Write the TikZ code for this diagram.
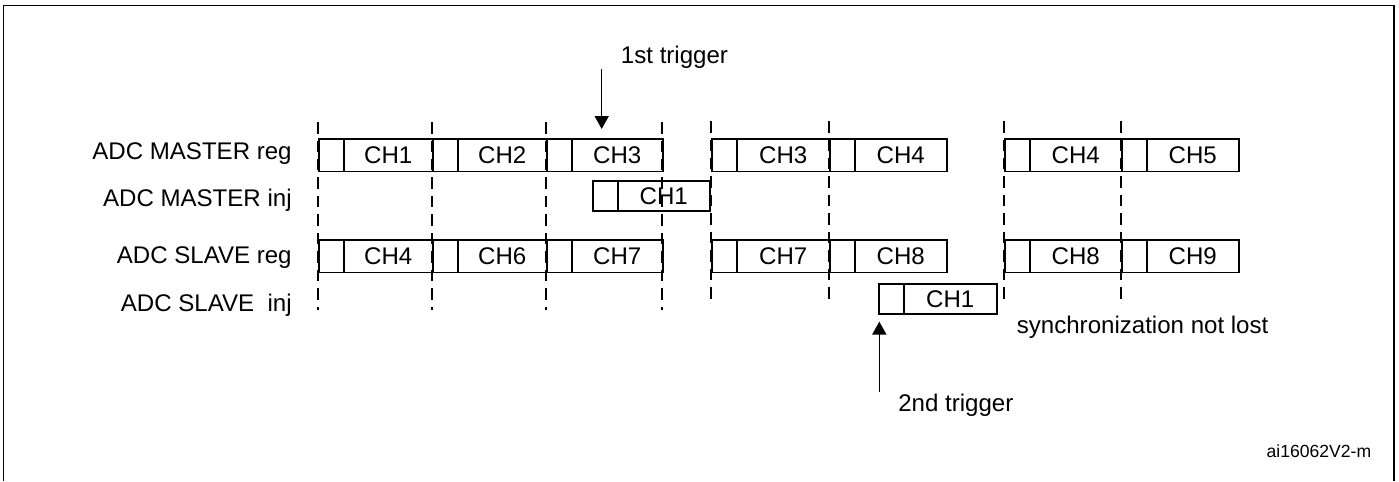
\documentclass[tikz,border=0pt]{standalone}
\usepackage{fontspec}
\setmainfont{Liberation Sans}
\usetikzlibrary{arrows.meta, positioning, calc}

\begin{document}
\begin{tikzpicture}[
  x=0.02cm, y=-0.02cm,
  every node/.style={font=\fontsize{13.7}{16}\selectfont, inner sep=0pt},
  pre/.style={rectangle, draw, line width=0.9pt, minimum width=0.5cm, anchor=north west},
  chan/.style={rectangle, draw, line width=0.9pt, anchor=north west},
  regrow/.style={minimum height=0.65cm},
  injrow/.style={minimum height=0.6cm},
  rowlbl/.style={anchor=base east},
  guide/.style={line width=1.1pt, dash pattern=on 0.23cm off 0.14cm},
  trig/.style={line width=0.9pt, -{Triangle[width=0.28cm, length=0.26cm]}},
  frame/.style={line width=1.1pt}
]

\useasboundingbox (0,0) rectangle (1399,481);

%% cadre (le bas sort de l'image)
\draw[frame] (3.5,481) -- (3.5,5.5) -- (1394,5.5) -- (1394,481);

%% noms des lignes
\node[rowlbl] (lmr) at (292,159) {ADC MASTER reg};
\node[rowlbl] (lmi) at (292,206) {ADC MASTER inj};
\node[rowlbl] (lsr) at (292,263) {ADC SLAVE reg};
\node[rowlbl] (lsi) at (292,311) {ADC SLAVE\ \ inj};

%% ADC maitre, conversions regulieres
\foreach \nm/\xa/\xb/\lab in {mr1/318/432/CH1, mr2/432/546/CH2, mr3/546/662/CH3,
                              mr4/711/829/CH3, mr5/829/946/CH4,
                              mr6/1004/1121/CH4, mr7/1121/1238/CH5}{
  \node[pre, regrow] (\nm-p) at (\xa,138) {};
  \node[chan, regrow, minimum width={(\xb-\xa-25)*0.02cm}] (\nm) at (\xa+25,138) {\lab};
}

%% ADC maitre, injecte
\node[pre, injrow] (mi1-p) at (592,180) {};
\node[chan, injrow, minimum width={(709-592-25)*0.02cm}] (mi1) at (617,180) {CH1};

%% ADC esclave, conversions regulieres
\foreach \nm/\xa/\xb/\lab in {sr1/318/432/CH4, sr2/432/546/CH6, sr3/546/662/CH7,
                              sr4/711/829/CH7, sr5/829/946/CH8,
                              sr6/1004/1121/CH8, sr7/1121/1238/CH9}{
  \node[pre, regrow] (\nm-p) at (\xa,239) {};
  \node[chan, regrow, minimum width={(\xb-\xa-25)*0.02cm}] (\nm) at (\xa+25,239) {\lab};
}

%% ADC esclave, injecte
\node[pre, injrow] (si1-p) at (878,283) {};
\node[chan, injrow, minimum width={(996-878-25)*0.02cm}] (si1) at (903,283) {CH1};

%% reperes en pointilles
\foreach \x in {318,432,546,662}
  \draw[guide] (\x,122) -- (\x,310);
\foreach \x in {711,829,1004,1121}
  \draw[guide] (\x,121) -- (\x,300);

%% declenchements
\coordinate (t1) at (601.7,69);
\draw[trig, shorten >=0.18cm] (t1) -- (t1 |- mr3.north);
\node[anchor=base] (t1lbl) at (674.5,63) {1st trigger};

\coordinate (t2) at (879.3,392);
\draw[trig, shorten >=0.14cm] (t2) -- (t2 |- si1-p.south);
\node[anchor=base west] (t2lbl) at (898,411) {2nd trigger};

\node[anchor=base west] (sync) at (1016.5,333) {synchronization not lost};
\node[anchor=base east, font=\fontsize{10}{12}\selectfont] (ref) at (1371.5,457) {ai16062V2-m};

\end{tikzpicture}
\end{document}
